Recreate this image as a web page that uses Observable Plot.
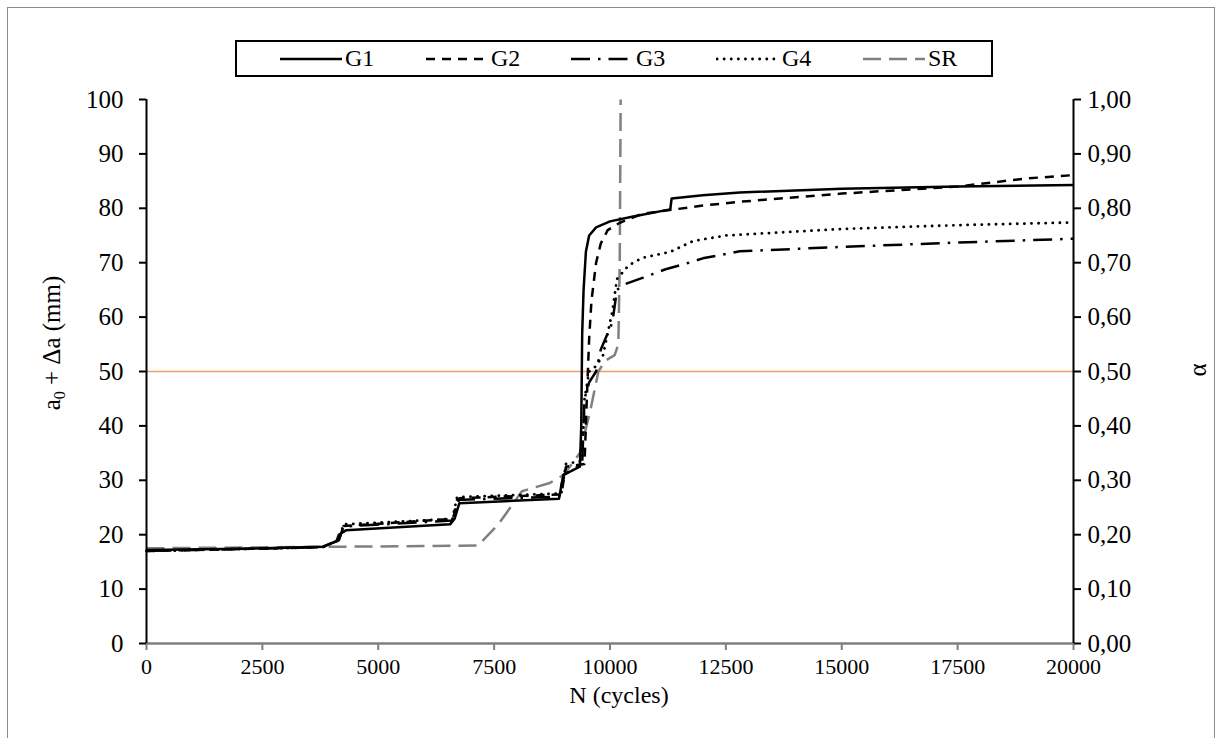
<!DOCTYPE html>
<html><head><meta charset="utf-8">
<script src="https://cdn.jsdelivr.net/npm/d3@7"></script>
<script src="https://cdn.jsdelivr.net/npm/@observablehq/plot@0.6"></script>
<style>
body{margin:0;background:#fff;font-family:"Liberation Serif","DejaVu Serif",serif;}
#wrap{position:relative;width:1222px;height:738px;overflow:hidden;background:#fff}
#frame{position:absolute;left:7px;top:7px;width:1208px;height:760px;border:1px solid #8c8c8c;box-sizing:border-box}
#legend{position:absolute;left:235px;top:40px;width:758px;height:37px;border:2px solid #000;box-sizing:border-box}
#legend .item{position:absolute;top:0;height:33px;display:flex;align-items:center;font-size:24px;color:#000;font-family:"Liberation Serif","DejaVu Serif",serif}
#legend svg{display:block}
#chart{position:absolute;left:0;top:80px}
#chart svg, #chart svg text{font-family:"Liberation Serif","DejaVu Serif",serif !important}
</style></head>
<body>
<div id="wrap"><div id="frame"></div><div id="legend"></div><div id="chart"></div></div>
<script>
// ---- data ----
const xTicks = [0,2500,5000,7500,10000,12500,15000,17500,20000];
const yTicks = [0,10,20,30,40,50,60,70,80,90,100];
const alphaTicks = [0,0.1,0.2,0.3,0.4,0.5,0.6,0.7,0.8,0.9,1.0];
const seriesNames = ["G1","G2","G3","G4","SR"];

const g1N = [0,2000,3800,4100,4150,4300,6550,6650,6750,8900,8950,9000,9350,9380,9400,9430,9480,9550,9700,10000,10500,11300,11330,12000,12800,15000,17500,20000];
const g1A = [17.2,17.4,17.8,18.8,20,20.8,21.9,23,25.8,26.6,29,31,32.5,40,57,65,72,75,76.5,77.6,78.5,79.8,81.8,82.4,82.9,83.6,84,84.3];

const g2N = [0,3800,4150,4250,6600,6650,6750,8950,9050,9450,9500,9550,9600,9700,9800,9950,10200,10700,12000,12800,15000,17500,19000,20000];
const g2A = [17,17.7,19,21.6,22.9,24,26.7,27.4,32.5,33,45,56,63,70,73.5,76,77.3,79,80.5,81.2,82.7,84,85.5,86.1];

const g3N = [0,3800,4150,4250,6600,6700,8900,9000,9400,9450,9550,9700,9800,9950,10050,10150,10300,10700,11200,11700,12000,12800,15000,17500,20000];
const g3A = [17,17.7,19,21.5,22.6,26.4,27,31,33,45,48,50,54,57,59,65,66,67.2,68.8,70,70.8,72.1,72.9,73.7,74.4];

const g4N = [0,3800,4150,4250,6600,6700,8950,9050,9400,9450,9550,9700,9850,9950,10050,10150,10400,10700,11300,11800,12500,15000,17500,20000];
const g4A = [17,17.7,19,21.9,22.9,26.9,27.6,33,33.6,45,50,51,53,57,61,67,69.5,70.9,72,74,75,76.2,76.9,77.4];

// SR is on the secondary axis (alpha, 0..1)
const srN = [0,7150,7600,8100,8700,9000,9350,9580,9750,9900,10100,10180,10210,10230];
const srAlpha = [0.175,0.18,0.22,0.28,0.295,0.31,0.35,0.43,0.50,0.52,0.53,0.55,0.70,1.0];

// ---- styles ----
const styles = {
  G1:{stroke:"#000",width:2.5,dash:null,cap:"butt"},
  G2:{stroke:"#000",width:2.5,dash:"9,7",cap:"butt"},
  G3:{stroke:"#000",width:2.5,dash:"19,8,2.5,8",cap:"butt"},
  G4:{stroke:"#000",width:2.8,dash:"0.1,7",cap:"round"},
  SR:{stroke:"#808080",width:2.5,dash:"18,8",cap:"butt"}
};

const rows = (N, V, s) => N.map((n,i)=>({N:n, v:V[i], s}));
const data = {
  G1: rows(g1N,g1A,"G1"),
  G2: rows(g2N,g2A,"G2"),
  G3: rows(g3N,g3A,"G3"),
  G4: rows(g4N,g4A,"G4"),
  SR: rows(srN,srAlpha.map(a=>a*100),"SR")
};

const lineMark = k => Plot.line(data[k], {x:"N", y:"v", stroke:styles[k].stroke, strokeWidth:styles[k].width,
  strokeDasharray:styles[k].dash||undefined, strokeLinecap:styles[k].cap, strokeLinejoin:"round", curve:"linear"});

const plot = Plot.plot({
  width:1222, height:658,
  marginLeft:146, marginRight:149, marginTop:19, marginBottom:95,
  style:{fontFamily:"Liberation Serif, DejaVu Serif, serif", fontSize:"23px", color:"#000", background:"transparent", overflow:"visible"},
  x:{domain:[0,20000]},
  y:{domain:[0,100]},
  marks:[
    Plot.ruleY([50],{stroke:"#EE9C68",strokeWidth:1.6}),
    lineMark("SR"), lineMark("G4"), lineMark("G3"), lineMark("G2"), lineMark("G1"),
    Plot.axisX({ticks:xTicks, tickFormat:d=>String(d), tickSize:7, tickPadding:8, strokeWidth:2, label:null, stroke:"#7f7f7f", fontSize:22}),
    Plot.axisY({ticks:yTicks, tickFormat:d=>String(d), tickSize:7, tickPadding:16, strokeWidth:2, label:null, fontSize:25}),
    Plot.axisY({anchor:"right", ticks:yTicks, tickFormat:d=>(d/100).toFixed(2).replace(".",","), tickSize:7, tickPadding:7, strokeWidth:2, label:null, fontSize:25}),
    Plot.ruleY([0],{stroke:"#7f7f7f",strokeWidth:2.5}),
    Plot.ruleX([0],{stroke:"#000",strokeWidth:2}),
    Plot.ruleX([20000],{stroke:"#000",strokeWidth:2})
  ]
});
document.getElementById("chart").appendChild(plot);

const svg = d3.select(plot);
svg.append("text").attr("x",619).attr("y",623).attr("text-anchor","middle")
  .style("font-size","24px").attr("fill","#000").text("N (cycles)");
const yt = svg.append("text").attr("transform","translate(60,263) rotate(-90)").attr("text-anchor","middle")
  .style("font-size","25px").attr("fill","#000");
yt.append("tspan").text("a");
yt.append("tspan").attr("dy",5).style("font-size","16px").text("0");
yt.append("tspan").attr("dy",-5).text(" + Δa (mm)");
svg.append("text").attr("transform","translate(1206,290) rotate(-90)").attr("text-anchor","middle")
  .style("font-size","25px").attr("fill","#000").text("α");

// legend
const legPos = {G1:42, G2:188, G3:333, G4:479, SR:625};
const leg = d3.select("#legend");
seriesNames.forEach(k=>{
  const it = leg.append("div").attr("class","item").style("left",legPos[k]+"px");
  const s = it.append("svg").attr("width",64).attr("height",20);
  s.append("line").attr("x1",1).attr("x2",63).attr("y1",10).attr("y2",10)
    .attr("stroke",styles[k].stroke).attr("stroke-width",styles[k].width)
    .attr("stroke-dasharray",styles[k].dash).attr("stroke-linecap",styles[k].cap);
  it.append("span").style("margin-left","2px").text(k);
});
</script>
</body></html>
